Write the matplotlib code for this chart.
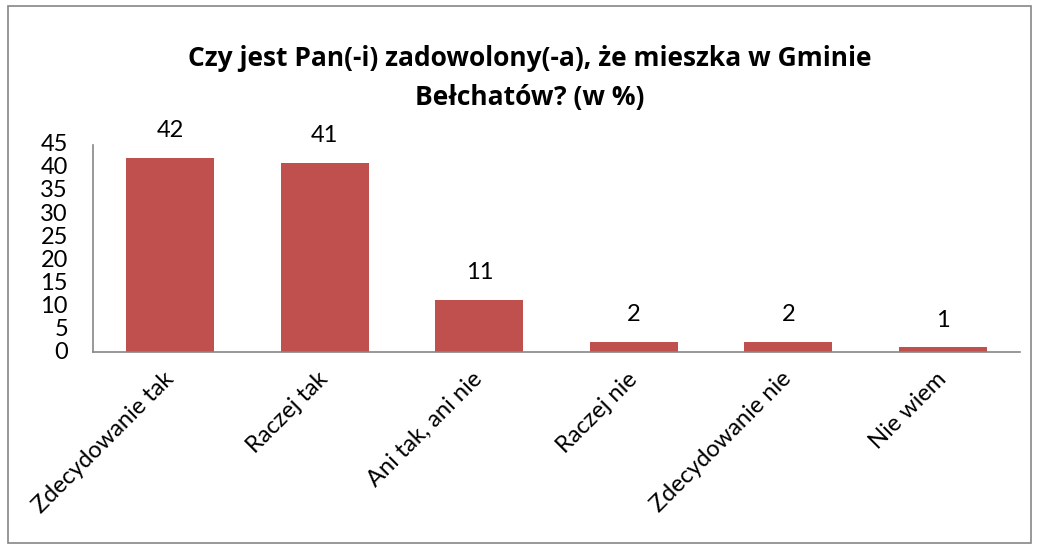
import matplotlib.pyplot as plt
from matplotlib.patches import Rectangle

kategorie = ['Zdecydowanie tak', 'Raczej tak', 'Ani tak, ani nie',
             'Raczej nie', 'Zdecydowanie nie', 'Nie wiem']
procent = [42.2, 41.1, 11.3, 2.2, 2.2, 1.0]
yticks = [0, 5, 10, 15, 20, 25, 30, 35, 40, 45]

plt.rcParams['font.family'] = ['Lato', 'DejaVu Sans']

fig = plt.figure(figsize=(10.38, 5.45), dpi=100)
ax = fig.add_axes([0.0896, 0.354, 0.8931, 0.380])

x = range(len(kategorie))
bars = ax.bar(x, procent, width=0.57, color='#C0504D')
ax.set_xlim(-0.5, len(kategorie) - 0.5)
ax.set_ylim(0, 45)
ax.set_yticks(yticks)
ax.tick_params(axis='y', length=0, labelsize=17, pad=18)
ax.tick_params(axis='x', length=0, labelsize=17, pad=17)
ax.set_xticks(list(x))
ax.set_xticklabels(kategorie, rotation=45, ha='right', va='center',
                   rotation_mode='anchor')
for t in ax.get_yticklabels():
    t.set_verticalalignment('center')

for s in ['top', 'right']:
    ax.spines[s].set_visible(False)
for s in ['left', 'bottom']:
    ax.spines[s].set_color('#868686')
    ax.spines[s].set_linewidth(1.2)

for b, v in zip(bars, procent):
    ax.annotate('%.0f' % v, (b.get_x() + b.get_width() / 2, b.get_height()),
                xytext=(0, 12), textcoords='offset points',
                ha='center', va='bottom', fontsize=17)

fig.text(0.51, 0.857, 'Czy jest Pan(-i) zadowolony(-a), że mieszka w Gminie\nBełchatów? (w %)',
         ha='center', va='center', fontsize=19, fontweight='bold', linespacing=1.6,
         family=['Open Sans', 'DejaVu Sans'])

fig.patches.append(Rectangle((0.008, 0.004), 0.985, 0.985, transform=fig.transFigure,
                             fill=False, edgecolor='#868686', linewidth=1.2))

fig.savefig('out.png', dpi=100)
